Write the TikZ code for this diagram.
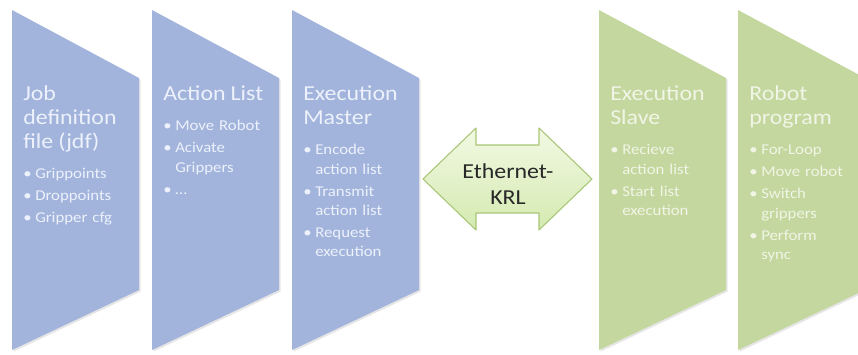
\documentclass[tikz,border=0pt]{standalone}
\usepackage{fontspec}
\setmainfont{Carlito}[FakeStretch=1.12]
\usetikzlibrary{shadows}
\definecolor{paneblue}{RGB}{162,180,220}
\definecolor{panegreen}{RGB}{196,215,158}
\definecolor{bluetext}{RGB}{236,241,251}
\definecolor{greentext}{RGB}{240,245,230}
\definecolor{ethline}{RGB}{168,198,118}
\definecolor{ethtop}{RGB}{242,249,228}
\definecolor{ethbot}{RGB}{212,234,176}
\definecolor{ethtext}{RGB}{40,40,40}
\tikzset{
  panel/.style={drop shadow={shadow xshift=1.2pt, shadow yshift=-1.2pt, opacity=0.2}},
  ptext/.style={anchor=base west, inner sep=0pt, text width=100pt, align=left,
    font=\fontsize{11.25}{14.5}\selectfont},
}
\newcommand{\ptitle}[1]{\setlength{\parskip}{2pt}{\fontsize{16}{18}\selectfont #1\par}\vspace{6.5pt}}
\newcommand{\bitem}[1]{\noindent\hangindent=9pt\hangafter=1\makebox[9pt][l]{\textbullet}#1\par}

\begin{document}
\begin{tikzpicture}[x=0.75pt, y=-0.75pt]
  \useasboundingbox (0,0) rectangle (858,354);
  \clip (0,0) rectangle (858,354);

  % panels
  \foreach \px/\col in {12/paneblue, 152/paneblue, 292/paneblue, 599/panegreen, 738/panegreen}
    \fill[panel, \col] (\px,10) -- ++(127,68) -- ++(0,212) -- ++(-127,60) -- cycle;

  % panel texts
  \node[ptext, text=bluetext] (jdf) at (23,100)
    {\ptitle{Job\\definition\\file (jdf)}\bitem{Grippoints}\bitem{Droppoints}\bitem{Gripper cfg}};
  \node[ptext, text=bluetext] (alist) at (163,100)
    {\ptitle{Action List}\bitem{Move Robot}\bitem{Acivate\newline Grippers}\bitem{\dots}};
  \node[ptext, text=bluetext] (master) at (303,100)
    {\ptitle{Execution\\Master}\bitem{Encode\newline action list}\bitem{Transmit\newline action list}\bitem{Request\newline execution}};
  \node[ptext, text=greentext] (slave) at (610,100)
    {\ptitle{Execution\\Slave}\bitem{Recieve\newline action list}\bitem{Start list\newline execution}};
  \node[ptext, text=greentext] (robot) at (749,100)
    {\ptitle{Robot\\program}\bitem{For-Loop}\bitem{Move robot}\bitem{Switch\newline grippers}\bitem{Perform\newline sync}};

  % link arrow
  \draw[ethline, top color=ethtop, bottom color=ethbot, line width=0.8pt, line join=round]
    (423,179) -- (476,128) -- (476,145) -- (539,145) -- (539,128) -- (592,179)
    -- (539,230) -- (539,213) -- (476,213) -- (476,230) -- cycle;
  \node[align=center, inner sep=0pt, text=ethtext, font=\fontsize{16}{19.5}\selectfont]
    (eth) at (508,184) {Ethernet-\\KRL};
\end{tikzpicture}
\end{document}
